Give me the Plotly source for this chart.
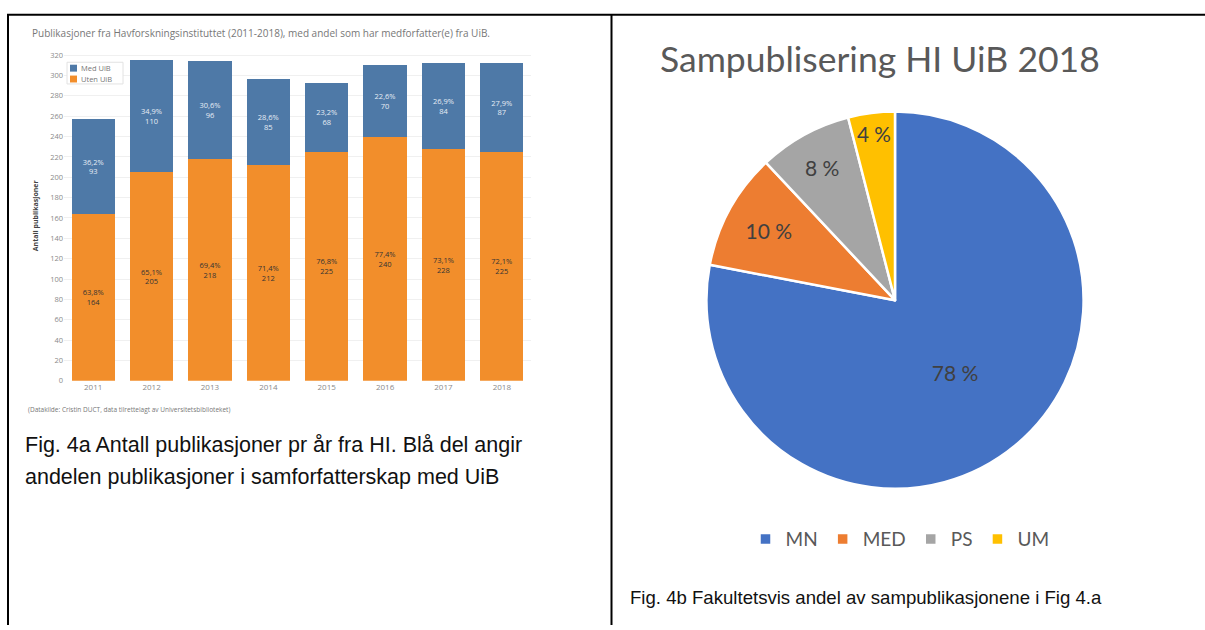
import plotly.graph_objects as go

# ---------------- data ----------------
years = ["2011", "2012", "2013", "2014", "2015", "2016", "2017", "2018"]
uten_uib = [164, 205, 218, 212, 225, 240, 228, 225]
med_uib = [93, 110, 96, 85, 68, 70, 84, 87]
uten_pct = ["63,8%", "65,1%", "69,4%", "71,4%", "76,8%", "77,4%", "73,1%", "72,1%"]
med_pct = ["36,2%", "34,9%", "30,6%", "28,6%", "23,2%", "22,6%", "26,9%", "27,9%"]
y_ticks = list(range(0, 321, 20))
bar_legend = ["Med UiB", "Uten UiB"]
bar_colors = ["#4E79A7", "#F28E2B"]

pie_labels = ["MN", "MED", "PS", "UM"]
pie_values = [78, 10, 8, 4]
pie_text = ["78 %", "10 %", "8 %", "4 %"]
pie_colors = ["#4472C4", "#ED7D31", "#A5A5A5", "#FFC000"]

W, H = 1205, 630


def px(x):
    return x / W


def py(y):
    return 1 - y / H


fig = go.Figure()

bar_font = "Open Sans"
fig.add_trace(go.Bar(
    x=years, y=uten_uib, name=bar_legend[1],
    marker=dict(color=bar_colors[1], line=dict(width=0)),
    text=[f"{p}<br>{v}" for p, v in zip(uten_pct, uten_uib)],
    textposition="inside", insidetextanchor="middle",
    textfont=dict(family=bar_font, size=7.5, color="#333333"),
    constraintext="none", showlegend=False,
))
fig.add_trace(go.Bar(
    x=years, y=med_uib, name=bar_legend[0],
    marker=dict(color=bar_colors[0], line=dict(width=0)),
    text=[f"{p}<br>{v}" for p, v in zip(med_pct, med_uib)],
    textposition="inside", insidetextanchor="middle",
    textfont=dict(family=bar_font, size=7.5, color="#e6edf5"),
    constraintext="none", showlegend=False,
))

fig.add_trace(go.Pie(
    labels=pie_labels, values=pie_values, text=pie_text,
    textinfo="text", textposition="inside", insidetextorientation="horizontal",
    sort=False, direction="clockwise", rotation=0,
    marker=dict(colors=pie_colors, line=dict(color="white", width=2.5)),
    textfont=dict(family="Lato", size=21, color="#404040"),
    domain=dict(x=[px(704), px(1086)], y=[py(492), py(110)]),
    showlegend=True,
))

fig.update_layout(
    width=W, height=H,
    margin=dict(l=0, r=0, t=0, b=0),
    paper_bgcolor="white", plot_bgcolor="white",
    barmode="stack", bargap=0.26,
    xaxis=dict(domain=[px(64), px(531)], type="category",
               showgrid=False, showline=False, ticks="",
               tickfont=dict(family=bar_font, size=8, color="#8a8a8a")),
    yaxis=dict(domain=[py(382.7), py(50.7)], range=[0, 322],
               tickvals=y_ticks, showgrid=True, gridcolor="#f0f0f0",
               zeroline=False, showline=False, ticks="",
               tickfont=dict(family=bar_font, size=7.5, color="#8a8a8a")),
    legend=dict(orientation="h", x=px(900), y=py(543), xanchor="center",
                yanchor="middle", itemwidth=30, traceorder="normal",
                font=dict(family="Lato", size=19, color="#595959")),
    showlegend=True,
)

ann = []
ann.append(dict(text="Publikasjoner fra Havforskningsinstituttet (2011-2018), med andel som har medforfatter(e) fra UiB.",
                x=px(30), y=py(30), xanchor="left", yanchor="middle",
                font=dict(family=bar_font, size=10, color="#777777")))
ann.append(dict(text="<b>Antall publikasjoner</b>", x=px(35), y=py(215),
                xanchor="center", yanchor="middle", textangle=-90,
                font=dict(family=bar_font, size=7, color="#444444")))
ann.append(dict(text="(Datakilde: Cristin DUCT, data tilrettelagt av Universitetsbiblioteket)",
                x=px(26), y=py(412), xanchor="left", yanchor="middle",
                font=dict(family=bar_font, size=6.5, color="#777777")))
ann.append(dict(text="Fig. 4a Antall publikasjoner pr år fra HI. Blå del angir",
                x=px(23), y=py(448), xanchor="left", yanchor="middle",
                font=dict(family="Liberation Sans", size=21.5, color="#111111")))
ann.append(dict(text="andelen publikasjoner i samforfatterskap med UiB",
                x=px(23), y=py(480), xanchor="left", yanchor="middle",
                font=dict(family="Liberation Sans", size=21.5, color="#111111")))
ann.append(dict(text="Sampublisering HI UiB 2018",
                x=px(880), y=py(56), xanchor="center", yanchor="middle",
                font=dict(family="Lato", size=35.5, color="#595959")))
ann.append(dict(text="Fig. 4b Fakultetsvis andel av sampublikasjonene i Fig 4.a",
                x=px(628), y=py(602), xanchor="left", yanchor="middle",
                font=dict(family="Liberation Sans", size=18.6, color="#111111")))
# bar legend (custom, compact, like the Tableau one)
for i, name in enumerate(bar_legend):
    ann.append(dict(text=name, x=px(79), y=py(66 + 11 * i), xanchor="left",
                    yanchor="middle",
                    font=dict(family=bar_font, size=7.5, color="#777777")))
for a in ann:
    a.update(xref="paper", yref="paper", showarrow=False)
fig.update_layout(annotations=ann)

shapes = []
shapes.append(dict(type="rect", xref="paper", yref="paper",
                   x0=px(67), x1=px(123), y0=py(82), y1=py(60),
                   line=dict(color="#e2e2e2", width=1), fillcolor="white", layer="above"))
for i, c in enumerate(bar_colors):
    shapes.append(dict(type="rect", xref="paper", yref="paper",
                       x0=px(70), x1=px(77), y0=py(69.5 + 11 * i), y1=py(62.5 + 11 * i),
                       line=dict(width=0), fillcolor=c, layer="above"))
# table borders
line = dict(color="black", width=2)
shapes += [
    dict(type="line", xref="paper", yref="paper", x0=px(7), x1=1, y0=py(12), y1=py(12), line=line),
    dict(type="line", xref="paper", yref="paper", x0=px(8), x1=px(8), y0=py(12), y1=0, line=line),
    dict(type="line", xref="paper", yref="paper", x0=px(611.5), x1=px(611.5), y0=py(12), y1=0, line=line),
]
fig.update_layout(shapes=shapes)

fig.write_html("out.html", config={"displayModeBar": False},
               post_script="document.body.style.margin='0';document.body.style.padding='0';")
